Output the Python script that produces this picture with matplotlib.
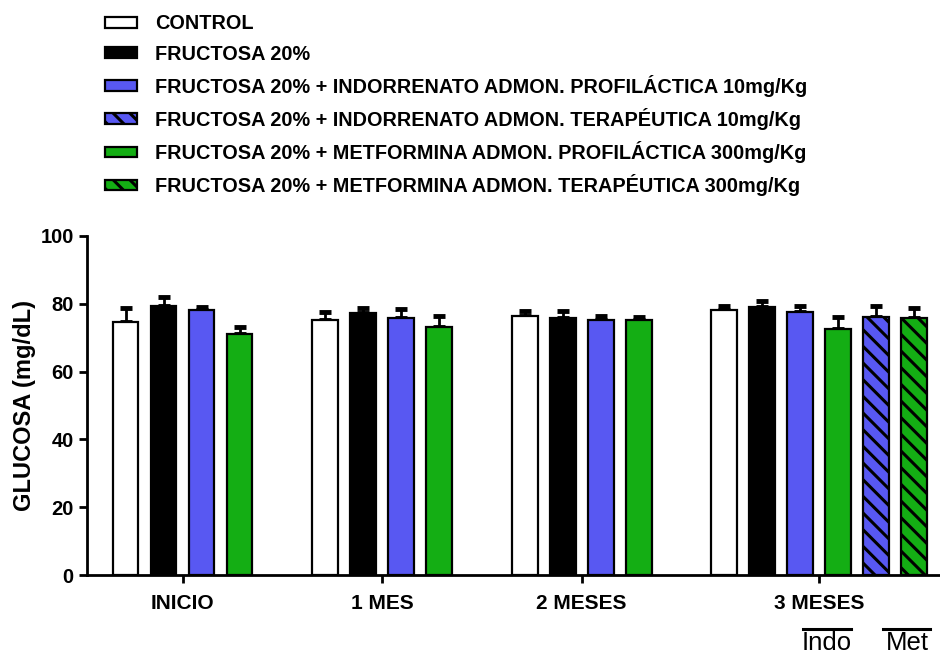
import matplotlib
matplotlib.use("Agg")
import matplotlib.pyplot as plt
from matplotlib.patches import Patch

plt.rcParams['font.family'] = ['Liberation Sans', 'DejaVu Sans']
plt.rcParams['font.weight'] = 'bold'
plt.rcParams['hatch.linewidth'] = 2.2

# data (mean, upper SEM)
grupos = ['INICIO', '1 MES', '2 MESES', '3 MESES']
control = [74.6, 75.2, 76.3, 78.2]
control_err = [4.1, 2.5, 1.7, 1.1]
fructosa = [79.4, 77.3, 75.8, 79.2]
fructosa_err = [2.5, 1.5, 2.0, 1.5]
indo_prof = [78.2, 75.7, 75.2, 77.7]
indo_prof_err = [0.8, 2.8, 1.3, 1.6]
met_prof = [71.0, 73.3, 75.2, 72.5]
met_prof_err = [2.1, 3.0, 1.0, 3.5]
# therapeutic groups only measured at 3 MESES
indo_ter = [76.0]
indo_ter_err = [3.4]
met_ter = [75.8]
met_ter_err = [3.0]

labels = ['CONTROL',
          'FRUCTOSA 20%',
          'FRUCTOSA 20% + INDORRENATO ADMON. PROFILÁCTICA 10mg/Kg',
          'FRUCTOSA 20% + INDORRENATO ADMON. TERAPÉUTICA 10mg/Kg',
          'FRUCTOSA 20% + METFORMINA ADMON. PROFILÁCTICA 300mg/Kg',
          'FRUCTOSA 20% + METFORMINA ADMON. TERAPÉUTICA 300mg/Kg']

azul = '#5858F2'
verde = '#14AE14'
colores = ['white', 'black', azul, azul, verde, verde]
tramas = [None, None, None, '\\\\', None, '\\\\']

# each series: (values, errors, group indices, style index)
series = [
    (control, control_err, [0, 1, 2, 3], 0),
    (fructosa, fructosa_err, [0, 1, 2, 3], 1),
    (indo_prof, indo_prof_err, [0, 1, 2, 3], 2),
    (met_prof, met_prof_err, [0, 1, 2, 3], 4),
    (indo_ter, indo_ter_err, [3], 3),
    (met_ter, met_ter_err, [3], 5),
]

n_por_grupo = [4, 4, 4, 6]
hueco = 1.25
inicio = []
s = 0.0
for n in n_por_grupo:
    inicio.append(s)
    s += n + hueco
centros = [inicio[i] + (n_por_grupo[i] - 1) / 2 for i in range(4)]

fig = plt.figure(figsize=(9.4, 6.57), dpi=100)
ax = fig.add_axes([0.0926, 0.1248, 0.9074, 0.516])

usados = [0, 0, 0, 0]
for vals, errs, gidx, k in series:
    xs = []
    for g in gidx:
        xs.append(inicio[g] + usados[g])
        usados[g] += 1
    ax.errorbar(xs, vals, yerr=[[0] * len(vals), errs], fmt='none',
                ecolor='black', elinewidth=2, capsize=4.5, capthick=3.5, zorder=2)
    ax.bar(xs, vals, width=0.68, color=colores[k], edgecolor='black',
           linewidth=1.6, hatch=tramas[k], zorder=3)

ax.set_xlim(-1.013, 21.43)
ax.set_ylim(0, 100)
ax.set_yticks([0, 20, 40, 60, 80, 100])
ax.set_xticks(centros)
ax.set_xticklabels(grupos, fontsize=15, fontweight='bold')
ax.tick_params(axis='y', labelsize=14.5, width=2, length=6)
ax.tick_params(axis='x', width=2, length=6, pad=8)
ax.set_ylabel('GLUCOSA (mg/dL)', fontsize=17, fontweight='bold', labelpad=3)
for lado in ['top', 'right']:
    ax.spines[lado].set_visible(False)
for lado in ['left', 'bottom']:
    ax.spines[lado].set_linewidth(2)

# Indo / Met marks under the 3 MESES group
trans = ax.get_xaxis_transform()
for nombre, x0, x1 in [('Indo', 17.82, 19.1), ('Met', 19.94, 21.18)]:
    ax.plot([x0, x1], [-0.159, -0.159], color='black', lw=2.2,
            transform=trans, clip_on=False)
    ax.text((x0 + x1) / 2, -0.222, nombre, transform=trans, ha='center',
            va='baseline', fontsize=18.5, fontweight='normal')

handles = [Patch(facecolor=colores[i], edgecolor='black', linewidth=1.6,
                 hatch=tramas[i]) for i in range(6)]
fig.legend(handles, labels, loc='upper left', bbox_to_anchor=(0.1117, 0.978),
           frameon=False, fontsize=14.3, handlelength=1.62, handleheight=0.45,
           handletextpad=0.9, labelspacing=0.56, borderpad=0, borderaxespad=0)

fig.savefig('out.png', dpi=100)
